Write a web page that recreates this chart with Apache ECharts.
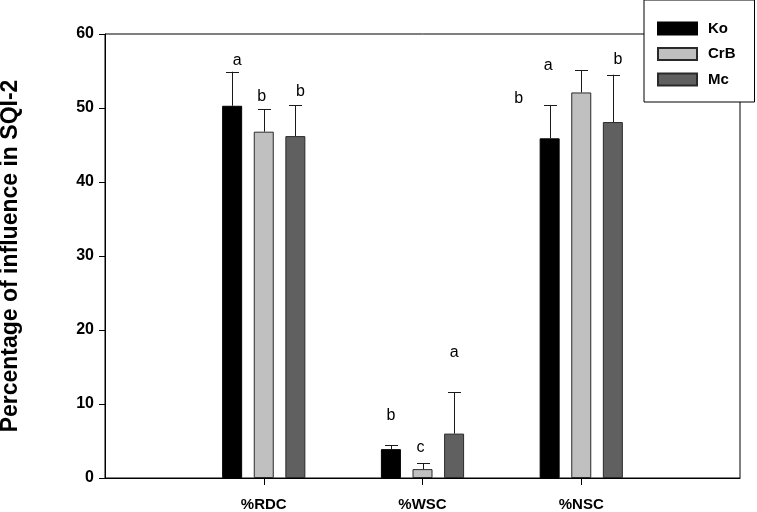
<!DOCTYPE html>
<html>
<head>
<meta charset="utf-8">
<script src="https://cdn.jsdelivr.net/npm/echarts@6/dist/echarts.min.js"></script>
<style>html,body{margin:0;padding:0;background:#fff;}#c{width:757px;height:512px;}</style>
</head>
<body>
<div id="c"></div>
<script>
// ---- data ----
const categories = ['%RDC', '%WSC', '%NSC'];
const seriesNames = ['Ko', 'CrB', 'Mc'];
const koMean = [50.3, 3.9, 45.9];
const koErr = [4.6, 0.5, 4.5];
const crbMean = [46.8, 1.2, 52.1];
const crbErr = [3.0, 0.8, 3.0];
const mcMean = [46.2, 6.0, 48.1];
const mcErr = [4.2, 5.6, 6.4];
const koLetters = ['a', 'b', 'b'];
const crbLetters = ['b', 'c', 'a'];
const mcLetters = ['b', 'a', 'b'];
// letter anchor heights (axis units)
const koLetterY = [56.4, 8.4, 51.3];
const crbLetterY = [51.5, 4.1, 55.7];
const mcLetterY = [52.2, 16.9, 56.5];
const yTicks = [0, 10, 20, 30, 40, 50, 60];

// ---- styling constants ----
const colors = ['#000000', '#c0c0c0', '#606060'];
const BAR_W = 20, BAR_GAP = 0.58;
const STEP = BAR_W * (1 + BAR_GAP);
const letterDx = [[5, 0, -31], [-2, -2, -33], [5, 0, 5]];
const FONT = '"Liberation Sans", Arial, Helvetica, sans-serif';

const means = [koMean, crbMean, mcMean];
const errs = [koErr, crbErr, mcErr];
const letters = [koLetters, crbLetters, mcLetters];
const letterY = [koLetterY, crbLetterY, mcLetterY];

const axisCats = [''].concat(categories, ['']);
const pad = arr => [null].concat(arr, [null]);

const errData = [], letterData = [], letterText = [];
for (let s = 0; s < 3; s++) {
  for (let c = 0; c < categories.length; c++) {
    errData.push([c + 1, s, means[s][c], errs[s][c]]);
    letterData.push([c + 1, s, letterY[s][c], letterDx[s][c]]);
    letterText.push(letters[s][c]);
  }
}

const barSeries = seriesNames.map((n, i) => ({
  name: n,
  type: 'bar',
  data: pad(means[i]),
  barWidth: BAR_W,
  barGap: (BAR_GAP * 100) + '%',
  itemStyle: { color: colors[i], borderColor: i === 0 ? '#000' : '#2a2a2a', borderWidth: 1 },
  emphasis: { disabled: true },
  animation: false
}));

const chart = echarts.init(document.getElementById('c'));
chart.setOption({
  animation: false,
  backgroundColor: '#fff',
  grid: { left: 105, right: 17, top: 34, bottom: 34, containLabel: false, outerBoundsMode: 'none', show: true, borderColor: '#000', borderWidth: 1, backgroundColor: 'transparent' },
  legend: {
    data: seriesNames,
    orient: 'vertical',
    left: 644, top: 0,
    padding: [21, 19, 15, 13],
    itemWidth: 39, itemHeight: 12, itemGap: 10.5,
    icon: 'rect',
    backgroundColor: '#fff',
    borderColor: '#000', borderWidth: 1,
    textStyle: { fontFamily: FONT, fontWeight: 'bold', fontSize: 15, color: '#000', lineHeight: 12, padding: [0, 0, 0, 6] },
    selectedMode: false,
    z: 10
  },
  xAxis: {
    type: 'category',
    data: axisCats,
    boundaryGap: false,
    axisLine: { lineStyle: { color: '#000', width: 1 } },
    axisTick: { show: true, length: 7, inside: false, interval: (i) => i >= 1 && i <= categories.length, lineStyle: { color: '#000' } },
    axisLabel: { interval: 0, margin: 19, fontFamily: FONT, fontWeight: 'bold', fontSize: 15, color: '#000' },
    splitLine: { show: false }
  },
  yAxis: {
    type: 'value',
    min: yTicks[0], max: yTicks[yTicks.length - 1], interval: 10,
    name: 'Percentage of influence in SQI-2',
    nameLocation: 'middle',
    nameGap: 83,
    nameTextStyle: { fontFamily: FONT, fontWeight: 'bold', fontSize: 23, color: '#000' },
    axisLine: { show: true, lineStyle: { color: '#000', width: 1 } },
    axisTick: { show: true, length: 6, lineStyle: { color: '#000' } },
    axisLabel: { margin: 11, fontFamily: FONT, fontWeight: 'bold', fontSize: 16, color: '#000' },
    splitLine: { show: false }
  },
  series: barSeries.concat([
    {
      type: 'custom',
      name: 'err',
      data: errData,
      encode: { x: 0, y: 2 },
      z: 3,
      silent: true,
      renderItem: function (params, api) {
        const c = api.value(0), s = api.value(1), m = api.value(2), e = api.value(3);
        const b = api.coord([c, m]);
        const t = api.coord([c, m + e]);
        const x = Math.round(b[0] + (s - 1) * STEP) + 0.5;
        const st = { stroke: '#1a1a1a', lineWidth: 1 };
        return {
          type: 'group',
          children: [
            { type: 'line', shape: { x1: x, y1: b[1], x2: x, y2: t[1] }, style: st },
            { type: 'line', shape: { x1: x - 6.5, y1: Math.round(t[1]) + 0.5, x2: x + 6.5, y2: Math.round(t[1]) + 0.5 }, style: st }
          ]
        };
      }
    },
    {
      type: 'custom',
      name: 'letters',
      data: letterData,
      encode: { x: 0, y: 2 },
      z: 4,
      silent: true,
      renderItem: function (params, api) {
        const c = api.value(0), s = api.value(1), y = api.value(2), dx = api.value(3);
        const p = api.coord([c, y]);
        return {
          type: 'text',
          x: p[0] + (s - 1) * STEP + dx,
          y: p[1],
          style: {
            text: letterText[params.dataIndex],
            fill: '#000',
            fontFamily: FONT,
            fontSize: 16,
            align: 'center',
            verticalAlign: 'middle'
          }
        };
      }
    }
  ])
});
</script>
</body>
</html>
